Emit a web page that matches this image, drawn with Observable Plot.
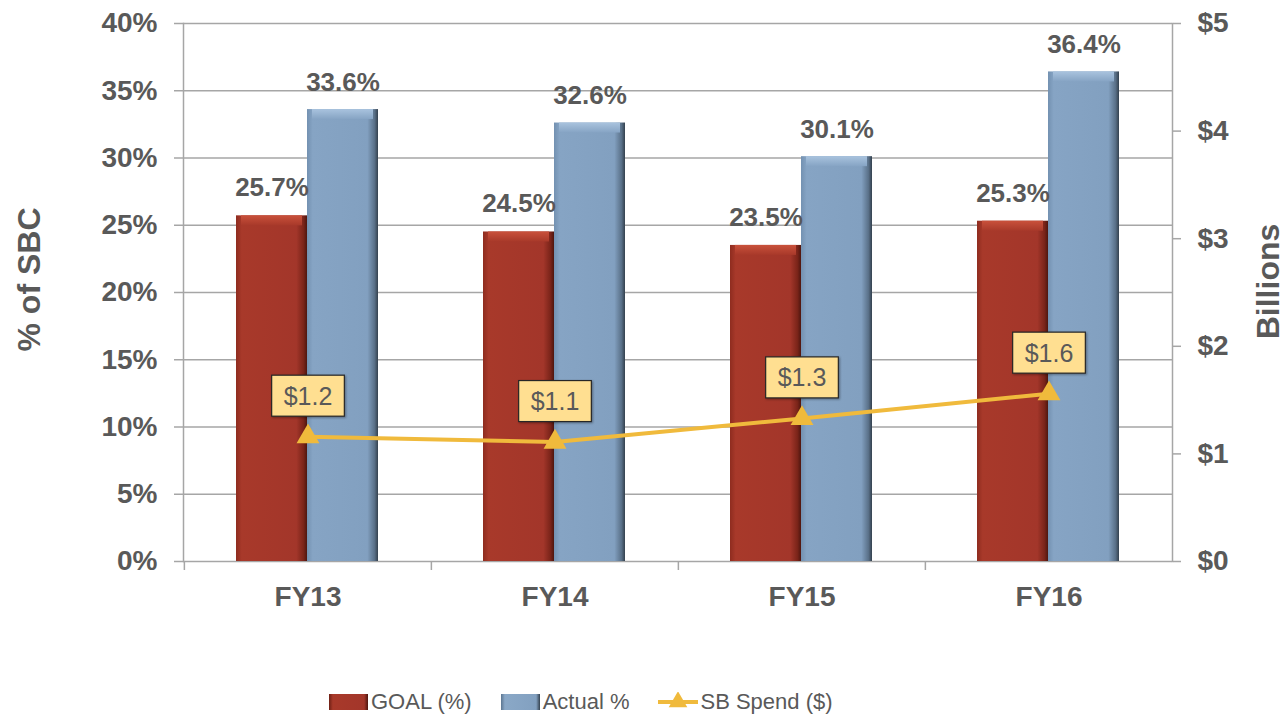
<!DOCTYPE html>
<html><head><meta charset="utf-8">
<script src="https://cdn.jsdelivr.net/npm/d3@7"></script>
<script src="https://cdn.jsdelivr.net/npm/@observablehq/plot@0.6"></script>
<style>
body{margin:0;background:#fff;font-family:"Liberation Sans",Arial,sans-serif;}
#wrap{position:relative;width:1286px;height:718px;overflow:hidden;}
#legend{position:absolute;left:329px;top:689px;display:flex;align-items:center;font-size:22px;color:#595959;white-space:nowrap;}
#legend .item{display:flex;align-items:center;margin-right:29px;}
</style></head>
<body><div id="wrap"><div id="chart"></div><div id="legend"></div></div>
<script>
const years = ["FY13", "FY14", "FY15", "FY16"];
const goal = [25.7, 24.5, 23.5, 25.3];
const actual = [33.6, 32.6, 30.1, 36.4];
const spend = [1.16, 1.11, 1.33, 1.56];
const pctTicks = [0, 5, 10, 15, 20, 25, 30, 35, 40];
const dollarTicks = [0, 1, 2, 3, 4, 5];
const seriesNames = ["GOAL (%)", "Actual %", "SB Spend ($)"];

const pctMax = 40, dollarMax = 5;
const K = pctMax / dollarMax; // dual-axis conversion
const rows = years.map((y, i) => ({year: y, goal: goal[i], actual: actual[i], spend: spend[i]}));

const W = 1286, H = 670, mL = 183, mR = 114, mT = 23, mB = 109;
const bw = (W - mL - mR) / years.length;
const grey = "#595959", lineGrey = "#A6A6A6", gold = "#F0BA3C";
const FONT = "Liberation Sans, Arial, sans-serif";

const svg = Plot.plot({
  width: W, height: H,
  marginLeft: mL, marginRight: mR, marginTop: mT, marginBottom: mB,
  style: {fontFamily: FONT, color: grey, background: "#fff"},
  x: {domain: years, padding: 0},
  y: {domain: [0, pctMax]},
  marks: [
    Plot.gridY(pctTicks, {stroke: lineGrey, strokeOpacity: 1, strokeWidth: 1.5}),
    Plot.frame({anchor: "left", stroke: lineGrey, strokeWidth: 1.5}),
    Plot.frame({anchor: "right", stroke: lineGrey, strokeWidth: 1.5}),
    Plot.axisY({anchor: "left", ticks: pctTicks, tickSize: 9, tickPadding: 17, tickFormat: d => d + "%",
      fontSize: 28, fontWeight: "bold", stroke: lineGrey, strokeWidth: 1.5, fill: grey, label: null}),
    Plot.axisY({anchor: "right", ticks: dollarTicks.map(d => d * K), tickSize: 8, tickPadding: 17,
      tickFormat: d => "$" + (d / K), fontSize: 28, fontWeight: "bold", stroke: lineGrey, strokeWidth: 1.5, fill: grey, label: null}),
    Plot.ruleX(years, {x: d => d, y1: 0, y2: 0, insetBottom: -9, dx: -bw / 2, stroke: lineGrey, strokeWidth: 1.5}),
    Plot.axisX({ticks: years, tickSize: 0, tickPadding: 25, fontSize: 28, fontWeight: "bold", fill: grey, label: null}),
    Plot.barY(rows, {x: "year", y: "goal", fill: "url(#gGoal)", insetLeft: 52, insetRight: 124}),
    Plot.barY(rows, {x: "year", y: "actual", fill: "url(#gActual)", insetLeft: 123, insetRight: 53}),
    Plot.barY(rows, {x: "year", y1: "goal", y2: "goal", insetBottom: -10, fill: "url(#gGoalCap)", insetLeft: 57, insetRight: 129}),
    Plot.barY(rows, {x: "year", y1: "actual", y2: "actual", insetBottom: -10, fill: "url(#gActualCap)", insetLeft: 128, insetRight: 58}),
    Plot.text(rows, {x: "year", y: "goal", text: d => d.goal.toFixed(1) + "%", dx: -36, dy: -28,
      fontSize: 26, fontWeight: "bold", fill: grey}),
    Plot.text(rows, {x: "year", y: "actual", text: d => d.actual.toFixed(1) + "%", dx: 35, dy: -27,
      fontSize: 26, fontWeight: "bold", fill: grey}),
    Plot.line(rows, {x: "year", y: d => d.spend * K, stroke: gold, strokeWidth: 4}),
    Plot.dot(rows, {x: "year", y: d => d.spend * K, symbol: "triangle", r: 8.5, fill: gold}),
    Plot.text(rows, {x: "year", y: d => d.spend * K, text: d => "$" + d.spend.toFixed(1), dy: -40,
      fontSize: 25, fill: grey, className: "spendlbl"}),
    Plot.text(["% of SBC"], {frameAnchor: "left", textAnchor: "middle", dx: -154, dy: -13, rotate: -90, fontSize: 32, fontWeight: "bold", fill: grey}),
    Plot.text(["Billions"], {frameAnchor: "right", textAnchor: "middle", dx: 96, dy: -11, rotate: -90, fontSize: 32, fontWeight: "bold", fill: grey})
  ]
});

const defs = d3.select(svg).insert("defs", ":first-child");
function grad(id, stops, vertical) {
  const g = defs.append("linearGradient").attr("id", id).attr("x1", "0").attr("y1", "0")
    .attr("x2", vertical ? "0" : "1").attr("y2", vertical ? "1" : "0");
  stops.forEach(([o, c]) => g.append("stop").attr("offset", o).attr("stop-color", c));
}
grad("gGoal", [[0, "#8E2C1F"], [0.08, "#A8392A"], [0.85, "#A3362A"], [0.95, "#7A2419"], [1, "#4E160F"]]);
grad("gActual", [[0, "#7391B1"], [0.08, "#86A4C4"], [0.85, "#82A0C0"], [0.95, "#5A7189"], [1, "#34414E"]]);
grad("gGoalCap", [[0, "#C9513B"], [1, "#A8392A"]], true);
grad("gActualCap", [[0, "#A9C3DE"], [1, "#86A4C4"]], true);
document.getElementById("chart").appendChild(svg);

// boxes behind the spend labels, sized from each label's rendered text
d3.select(svg).selectAll("g.spendlbl text").each(function () {
  const b = this.getBBox();
  const cx = b.x + b.width / 2, cy = b.y + b.height / 2;
  const w = b.width + 24, h = 41;
  d3.select(this.parentNode).insert("rect", () => this)
    .attr("x", cx - w / 2).attr("y", cy - h / 2).attr("width", w).attr("height", h)
    .attr("fill", "#FFDF91").attr("stroke", "#262626").attr("stroke-width", 1.2)
    .attr("transform", this.getAttribute("transform"))
    .style("filter", "drop-shadow(1px 1px 1px rgba(0,0,0,0.35))");
});

// legend
const leg = d3.select("#legend");
const swatchFills = ["url(#lgGoal)", "url(#lgActual)"];
const lsvg = leg.append("svg").attr("width", 1).attr("height", 1).style("position", "absolute").style("left", "0").style("top", "0");
const ld = lsvg.append("defs");
[["lgGoal", [[0, "#6E2015"], [0.1, "#A8392A"], [0.9, "#A3362A"], [1, "#4E160F"]]],
 ["lgActual", [[0, "#5C7691"], [0.1, "#8AA8C7"], [0.9, "#82A0C0"], [1, "#34414E"]]]].forEach(([id, stops]) => {
  const g = ld.append("linearGradient").attr("id", id);
  stops.forEach(([o, c]) => g.append("stop").attr("offset", o).attr("stop-color", c));
});
seriesNames.forEach((name, i) => {
  const it = leg.append("div").attr("class", "item");
  const s = it.append("svg").attr("width", 40).attr("height", 20).style("margin-right", "2px");
  if (i < 2) {
    s.append("rect").attr("x", 0).attr("y", 2).attr("width", 39).attr("height", 16).attr("fill", swatchFills[i]);
  } else {
    s.append("line").attr("x1", 0).attr("x2", 40).attr("y1", 10).attr("y2", 10).attr("stroke", gold).attr("stroke-width", 4);
    s.append("path").attr("d", d3.symbol(d3.symbolTriangle, 150)()).attr("transform", "translate(20,10)").attr("fill", gold);
  }
  it.append("span").text(name);
});
</script></body></html>
